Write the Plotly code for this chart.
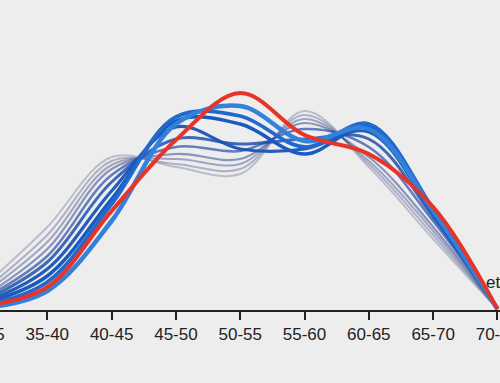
import plotly.graph_objects as go

categories = ["30-35", "35-40", "40-45", "45-50", "50-55", "55-60", "60-65", "65-70", "70-75"]

s0 = [1.1, 4.1, 7.6, 7.1, 6.75, 9.9, 7.1, 3.5, 0]
s1 = [0.9, 3.7, 7.4, 7.25, 7.0, 9.7, 7.25, 3.7, 0]
s2 = [0.75, 3.35, 7.2, 7.5, 7.25, 9.5, 7.4, 3.9, 0]
s3 = [0.6, 3.0, 7.0, 7.75, 7.5, 9.3, 7.6, 4.1, 0]
s4 = [0.5, 2.65, 6.7, 8.1, 7.9, 9.0, 8.1, 4.4, 0]
s5 = [0.4, 2.35, 6.35, 8.5, 8.25, 8.5, 8.5, 4.6, 0]
s6 = [0.3, 2.0, 5.9, 9.1, 8.0, 8.0, 8.85, 4.75, 0]
s7 = [0.25, 1.65, 5.5, 9.4, 9.25, 7.75, 9.1, 4.9, 0]
s8 = [0.15, 1.35, 5.25, 9.6, 9.65, 8.1, 9.25, 5.0, 0]
s9 = [0.05, 0.9, 4.4, 9.25, 10.15, 8.4, 9.0, 4.9, 0]
highlight = [0.15, 1.1, 4.9, 8.45, 10.8, 8.7, 7.75, 5.1, 0]

series = [s0, s1, s2, s3, s4, s5, s6, s7, s8, s9]
colors = [
    "rgba(70,80,130,0.30)", "rgba(70,80,135,0.38)", "rgba(65,80,140,0.46)",
    "rgba(55,75,150,0.55)", "rgba(40,75,165,0.70)", "rgba(30,80,175,0.85)",
    "rgba(25,85,180,0.95)", "rgba(25,90,190,1)", "rgba(35,105,205,1)",
    "rgba(50,130,220,1)",
]
widths = [2, 2, 2, 2.2, 2.5, 3, 3.2, 3.5, 3.8, 4.5]

x = list(range(len(categories)))
fig = go.Figure()
for s, c, w in zip(series, colors, widths):
    fig.add_trace(go.Scatter(x=x, y=s, mode="lines",
                             line=dict(color=c, width=w, shape="spline", smoothing=1),
                             hoverinfo="skip", showlegend=False))
fig.add_trace(go.Scatter(x=x, y=highlight, mode="lines",
                         line=dict(color="rgb(232,52,40)", width=4, shape="spline", smoothing=1),
                         hoverinfo="skip", showlegend=False))

# figure is 540 wide, shifted 20px left in the page so that the view is cropped like the reference
fig.update_layout(
    width=540, height=383,
    margin=dict(l=0, r=20, t=0, b=73, pad=0),
    paper_bgcolor="#ededed", plot_bgcolor="#ededed",
    font=dict(family="Liberation Sans, Arial, sans-serif", size=17, color="#222"),
    xaxis=dict(range=[-0.047, 8.04], tickvals=x, ticktext=categories, automargin=False,
               ticklabeloverflow="allow",
               showgrid=False, zeroline=False, showline=True, linecolor="#222",
               linewidth=1.5, ticks="outside", ticklen=8, tickwidth=1.5, tickcolor="#222",
               fixedrange=True),
    yaxis=dict(range=[-0.05, 15.45], visible=False, showgrid=False, zeroline=False,
               automargin=False, fixedrange=True),
    annotations=[dict(text="età", xref="paper", yref="paper", x=0.97, y=0.088,
                      xanchor="left", yanchor="middle", showarrow=False,
                      font=dict(size=17, color="#222"))],
)

fig.write_html("out.html", config={"displayModeBar": False, "responsive": False},
               post_script=("document.body.style.margin='0';"
                            "document.body.style.overflow='hidden';"
                            "document.body.style.background='#ededed';"
                            "var d=document.getElementsByClassName('plotly-graph-div')[0];"
                            "d.style.marginLeft='-20px';"))
